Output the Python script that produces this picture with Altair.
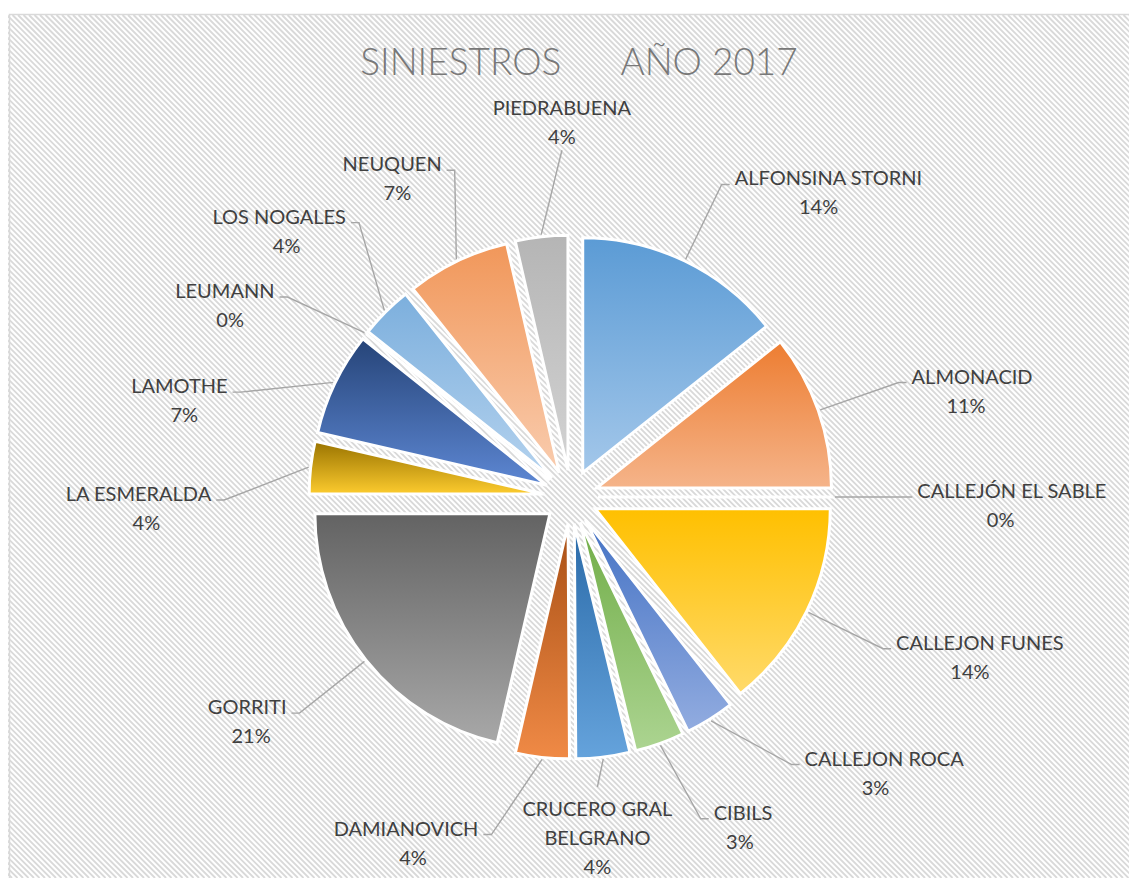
import math
import pandas as pd
import altair as alt

# ---------------- data ----------------
TITLE = "SINIESTROS" + "\u00a0" * 6 + "AÑO 2017"
names = [
    "ALFONSINA STORNI", "ALMONACID", "CALLEJÓN EL SABLE", "CALLEJON FUNES",
    "CALLEJON ROCA", "CIBILS", "CRUCERO GRAL BELGRANO", "DAMIANOVICH",
    "GORRITI", "LA ESMERALDA", "LAMOTHE", "LEUMANN", "LOS NOGALES",
    "NEUQUEN", "PIEDRABUENA",
]
values = [14.3, 10.7, 0.0, 14.4, 3.4, 3.4, 3.7, 3.7, 21.4, 3.6, 7.1, 0.0, 3.6, 7.1, 3.6]
top_colors = ["#5b9bd5", "#ed7d31", "#a5a5a5", "#ffc000", "#4472c4", "#70ad47", "#2a6aa8",
              "#a84f14", "#636363", "#997300", "#264478", "#43682b", "#7cafdd", "#f1975a", "#b5b5b5"]
bottom_colors = ["#a3c7ea", "#f5b48a", "#d0d0d0", "#ffda6a", "#92ace0", "#acd491", "#65a3dc",
                 "#f08a46", "#a8a8a8", "#fccb2e", "#5d87d3", "#8fc36b", "#b4d2ee", "#f9ccae", "#d3d3d3"]

# ---------------- layout ----------------
W, H = 1121, 870
CX, CY = 563, 489        # pie centre
R = 235                  # pie radius
D = 27                   # explode distance
RL = 320                 # label elbow radius
SEP = 18                 # min angular separation of labels (deg)
FS = 20
LH = 29
FONT = "Lato"
TXT = "#404040"
LEAD = "#a6a6a6"

total = sum(values)
pcts = [f"{round(v / total * 100)}%" for v in values]

CW = {"A": .68, "B": .64, "C": .67, "D": .75, "E": .56, "F": .54, "G": .72, "H": .76, "I": .28,
      "J": .40, "K": .67, "L": .51, "M": .92, "N": .76, "O": .80, "Ó": .80, "P": .61, "Q": .80,
      "R": .64, "S": .53, "T": .58, "U": .74, "V": .68, "W": 1.02, "X": .66, "Y": .62, "Z": .62,
      " ": .19, "%": .80}


def tw(s):
    return sum(CW.get(c, 0.58) for c in s) * FS * 0.9


def wrap(name, maxw=210):
    lines, cur = [], ""
    for word in name.split(" "):
        t = (cur + " " + word).strip()
        if cur and tw(t) > maxw:
            lines.append(cur)
            cur = word
        else:
            cur = t
    lines.append(cur)
    return lines


# mid angles of the slices
mids, cum = [], 0.0
for v in values:
    mids.append((cum + v / 2) / total * 360)
    cum += v

# simple label relaxation (keep labels apart)
la = mids[:]
n = len(la)
for _ in range(400):
    for i in range(n):
        j = (i + 1) % n
        diff = (la[j] - la[i]) % 360
        if diff < SEP - 1e-6:
            p = (SEP - diff) / 2
            la[i] -= p
            la[j] += p

name_rows, pct_rows, lead_rows = [], [], []
for i, nm in enumerate(names):
    m = math.radians(mids[i])
    ex, ey = CX + D * math.sin(m), CY - D * math.cos(m)
    ax, ay = ex + (R + 2) * math.sin(m), ey - (R + 2) * math.cos(m)
    a = math.radians(la[i])
    s, c = math.sin(a), math.cos(a)
    px, py = ex + RL * s, ey - RL * c
    nlines = wrap(nm)
    wn = max(tw(l) for l in nlines)
    nl = len(nlines) + 1
    if abs(s) < 0.2:
        if c > 0:
            ty = py - 6 - (nl - 1) * LH
        else:
            py = min(py, H - 4 - (nl - 1) * LH - 29)
            ty = py + 29
        nx, al, cxp = px, "center", px
        pts = [(ax, ay), (px, py)]
    else:
        sg = 1 if s > 0 else -1
        if sg > 0:
            px = min(px, W - 45 - 13 - wn)
        else:
            px = max(px, 45 + 13 + wn)
        nx = px + sg * 13
        al = "left" if sg > 0 else "right"
        cxp = nx + sg * wn / 2
        ty = py + 1
        pts = [(ax, ay), (px, py), (px + sg * 8, py)]
    name_rows.append({"name": nm, "label": "\n".join(nlines), "tx": nx, "ty": ty, "al": al})
    pct_rows.append({"name": nm, "pct": pcts[i], "tx": cxp, "ty": ty + len(nlines) * LH})
    for k, (qx, qy) in enumerate(pts):
        lead_rows.append({"name": nm, "step": k, "px": qx, "py": qy})

df = pd.DataFrame({"order": list(range(len(names))), "name": names, "value": values})
names_df = pd.DataFrame(name_rows)
pct_df = pd.DataFrame(pct_rows)
lead_df = pd.DataFrame(lead_rows)

# ---------------- layers ----------------
frame = alt.Chart(pd.DataFrame({"a": [0]})).mark_rect(
    fill="white", stroke="#d9d9d9", strokeWidth=1.5
).encode(x=alt.value(1.5), y=alt.value(6.5), x2=alt.value(W + 20), y2=alt.value(H + 20))

hatch = alt.Chart(alt.sequence(-H, W + 10, 5.5, as_="k")).transform_calculate(
    k2=f"datum.k + {H - 7}"
).mark_rule(color="#d9d9d9", strokeWidth=1.9, clip=True).encode(
    x=alt.X("k:Q", scale=None, axis=None), x2="k2:Q",
    y=alt.value(7), y2=alt.value(H),
)

base = alt.Chart(df).transform_joinaggregate(
    total="sum(value)"
).transform_window(
    cum="sum(value)", sort=[alt.SortField("order")], frame=[None, 0]
).transform_calculate(
    start="datum.cum - datum.value",
    mid="(datum.cum - datum.value / 2) / datum.total * 2 * PI",
).transform_calculate(
    ox=f"{CX} + {D} * sin(datum.mid)",
    oy=f"{CY} - {D} * cos(datum.mid)",
)

arcs = []
for i, nm in enumerate(names):
    grad = alt.LinearGradient(
        gradient="linear", x1=0, y1=0, x2=0, y2=1,
        stops=[alt.GradientStop(color=top_colors[i], offset=0),
               alt.GradientStop(color=bottom_colors[i], offset=1)],
    )
    arcs.append(
        base.transform_filter(alt.datum.name == nm).mark_arc(
            radius=R, fill=grad, stroke="white", strokeWidth=3
        ).encode(
            theta=alt.Theta("start:Q", scale=alt.Scale(domain=[0, total])),
            theta2="cum:Q",
            x=alt.X("ox:Q", scale=None, axis=None),
            y=alt.Y("oy:Q", scale=None, axis=None),
        )
    )

leaders = alt.Chart(lead_df).mark_line(color=LEAD, strokeWidth=1.4).encode(
    x=alt.X("px:Q", scale=None, axis=None),
    y=alt.Y("py:Q", scale=None, axis=None),
    detail="name:N", order="step:Q",
)

text_layers = []
for al in ["left", "right", "center"]:
    text_layers.append(
        alt.Chart(names_df).transform_filter(alt.datum.al == al).mark_text(
            font=FONT, fontSize=FS, color=TXT, align=al, baseline="alphabetic",
            lineBreak="\n", lineHeight=LH,
        ).encode(
            x=alt.X("tx:Q", scale=None, axis=None),
            y=alt.Y("ty:Q", scale=None, axis=None),
            text="label:N",
        )
    )
text_layers.append(
    alt.Chart(pct_df).mark_text(
        font=FONT, fontSize=FS, color=TXT, align="center", baseline="alphabetic",
    ).encode(
        x=alt.X("tx:Q", scale=None, axis=None),
        y=alt.Y("ty:Q", scale=None, axis=None),
        text="pct:N",
    )
)

title = alt.Chart(pd.DataFrame({"t": [TITLE]})).mark_text(
    font=FONT, fontSize=37, fontWeight=300, color="#787878", align="center", baseline="alphabetic"
).encode(text="t:N", x=alt.value(571), y=alt.value(67))

chart = alt.layer(frame, hatch, *arcs, leaders, *text_layers, title).properties(
    width=W, height=H, padding=0,
    autosize=alt.AutoSizeParams(type="none"),
    background="white",
).configure_view(stroke=None)

chart.save("out.html", embed_options={"renderer": "svg", "actions": False})
